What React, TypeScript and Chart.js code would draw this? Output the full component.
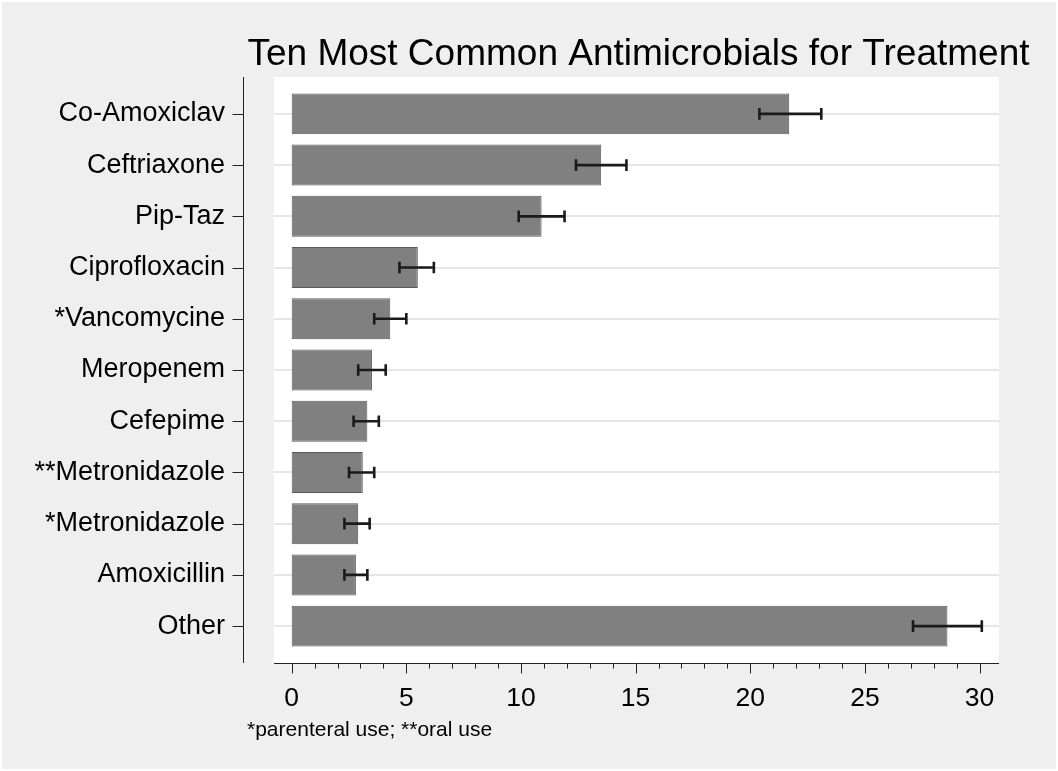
import React, { useEffect, useRef } from 'react';
import { Chart, registerables } from 'chart.js';

Chart.register(...registerables);

const categories = [
  'Co-Amoxiclav',
  'Ceftriaxone',
  'Pip-Taz',
  'Ciprofloxacin',
  '*Vancomycine',
  'Meropenem',
  'Cefepime',
  '**Metronidazole',
  '*Metronidazole',
  'Amoxicillin',
  'Other',
];
const percentages = [21.7, 13.5, 10.9, 5.5, 4.3, 3.5, 3.3, 3.1, 2.9, 2.8, 28.6];
const ciLower = [20.4, 12.4, 9.9, 4.7, 3.6, 2.9, 2.7, 2.5, 2.3, 2.3, 27.1];
const ciUpper = [23.1, 14.6, 11.9, 6.2, 5.0, 4.1, 3.8, 3.6, 3.4, 3.3, 30.1];
const xTickValues = [0, 5, 10, 15, 20, 25, 30];
const xMinorStep = 1;
const titleText = 'Ten Most Common Antimicrobials for Treatment';
const noteText = '*parenteral use; **oral use';

const FONT = "'Liberation Sans', Arial, Helvetica, sans-serif";

const decorPlugin = {
  id: 'decor',
  beforeDraw(chart: any) {
    const { ctx, chartArea: a, width, height } = chart;
    ctx.save();
    ctx.fillStyle = '#ffffff';
    ctx.fillRect(0, 0, width, height);
    ctx.fillStyle = '#efefef';
    ctx.fillRect(2, 2, width - 4, height - 4);
    ctx.fillStyle = '#ffffff';
    ctx.fillRect(a.left, a.top, a.right - a.left, a.bottom - a.top);
    ctx.restore();
  },
  afterDatasetsDraw(chart: any) {
    const { ctx } = chart;
    const xs = chart.scales.x;
    const ys = chart.scales.y;
    ctx.save();
    ctx.strokeStyle = '#1a1a1a';
    ctx.lineWidth = 2.6;
    ctx.lineCap = 'butt';
    const cap = 5.8;
    for (let i = 0; i < categories.length; i++) {
      const y = ys.getPixelForValue(i);
      const x1 = xs.getPixelForValue(ciLower[i]);
      const x2 = xs.getPixelForValue(ciUpper[i]);
      ctx.beginPath();
      ctx.moveTo(x1, y);
      ctx.lineTo(x2, y);
      ctx.moveTo(x1, y - cap);
      ctx.lineTo(x1, y + cap);
      ctx.moveTo(x2, y - cap);
      ctx.lineTo(x2, y + cap);
      ctx.stroke();
    }
    ctx.restore();
  },
  afterDraw(chart: any) {
    const { ctx, chartArea: a } = chart;
    const xs = chart.scales.x;
    const ys = chart.scales.y;
    ctx.save();
    ctx.strokeStyle = '#222222';
    ctx.lineWidth = 1;
    // y axis (detached)
    const ax = a.left - 30.5;
    ctx.beginPath();
    ctx.moveTo(ax, a.top);
    ctx.lineTo(ax, a.bottom);
    for (let i = 0; i < categories.length; i++) {
      const y = Math.round(ys.getPixelForValue(i)) + 0.5;
      ctx.moveTo(ax - 11, y);
      ctx.lineTo(ax, y);
    }
    ctx.stroke();
    // x axis
    const ay = a.bottom + 0.5;
    ctx.beginPath();
    ctx.moveTo(a.left, ay);
    ctx.lineTo(a.right, ay);
    const lo = xTickValues[0];
    const hi = xTickValues[xTickValues.length - 1];
    for (let v = lo; v <= hi + 1e-9; v += xMinorStep) {
      const x = Math.round(xs.getPixelForValue(v)) + 0.5;
      const major = xTickValues.includes(v);
      ctx.moveTo(x, ay);
      ctx.lineTo(x, ay + (major ? 10 : 5));
    }
    ctx.stroke();
    // title
    ctx.fillStyle = '#000000';
    ctx.font = `37px ${FONT}`;
    ctx.textAlign = 'center';
    ctx.textBaseline = 'alphabetic';
    ctx.fillText(titleText, (a.left + a.right) / 2 + 2, 65);
    // note
    ctx.font = `21px ${FONT}`;
    ctx.textAlign = 'left';
    ctx.fillText(noteText, 247, 736);
    ctx.restore();
  },
};

export default function App() {
  const ref = useRef<HTMLCanvasElement | null>(null);
  useEffect(() => {
    if (!ref.current) return;
    const chart = new Chart(ref.current, {
      type: 'bar',
      data: {
        datasets: [
          {
            data: percentages.map((v, i) => ({ x: v, y: i })),
            backgroundColor: '#808080',
            borderColor: '#5a5a5a',
            borderWidth: 1,
            borderSkipped: false,
            barPercentage: 0.8,
            categoryPercentage: 1,
          },
        ],
      },
      options: {
        animation: false,
        responsive: false,
        indexAxis: 'y',
        layout: { padding: { top: 77, right: 59, left: 0, bottom: 0 } },
        plugins: {
          legend: { display: false },
          tooltip: { enabled: false },
          title: { display: false },
        },
        scales: {
          x: {
            type: 'linear',
            position: 'bottom',
            offset: false,
            min: -0.772,
            max: 30.85,
            grid: { display: false, offset: false },
            border: { display: false },
            afterBuildTicks: (s: any) => {
              s.ticks = xTickValues.map((v) => ({ value: v }));
            },
            afterFit: (s: any) => {
              s.height = 108;
            },
            ticks: {
              font: { family: FONT, size: 26.5 },
              color: '#000000',
              padding: 12,
              maxRotation: 0,
              autoSkip: false,
            },
          },
          y: {
            type: 'linear',
            position: 'left',
            reverse: true,
            offset: false,
            min: -0.72,
            max: 10.72,
            grid: { color: '#e6e6e6', lineWidth: 2, drawTicks: false, offset: false },
            border: { display: false },
            afterBuildTicks: (s: any) => {
              s.ticks = categories.map((_, i) => ({ value: i }));
            },
            afterFit: (s: any) => {
              s.width = 274;
            },
            ticks: {
              font: { family: FONT, size: 27 },
              color: '#000000',
              padding: 49,
              autoSkip: false,
              callback: (v: any) => categories[Math.round(Number(v))] ?? '',
            },
          },
        },
      } as any,
      plugins: [decorPlugin],
    });
    return () => chart.destroy();
  }, []);
  return (
    <div style={{ position: 'fixed', left: 0, top: 0, width: 1058, height: 771 }}>
      <canvas ref={ref} width={1058} height={771} style={{ width: 1058, height: 771, display: 'block' }} />
    </div>
  );
}
